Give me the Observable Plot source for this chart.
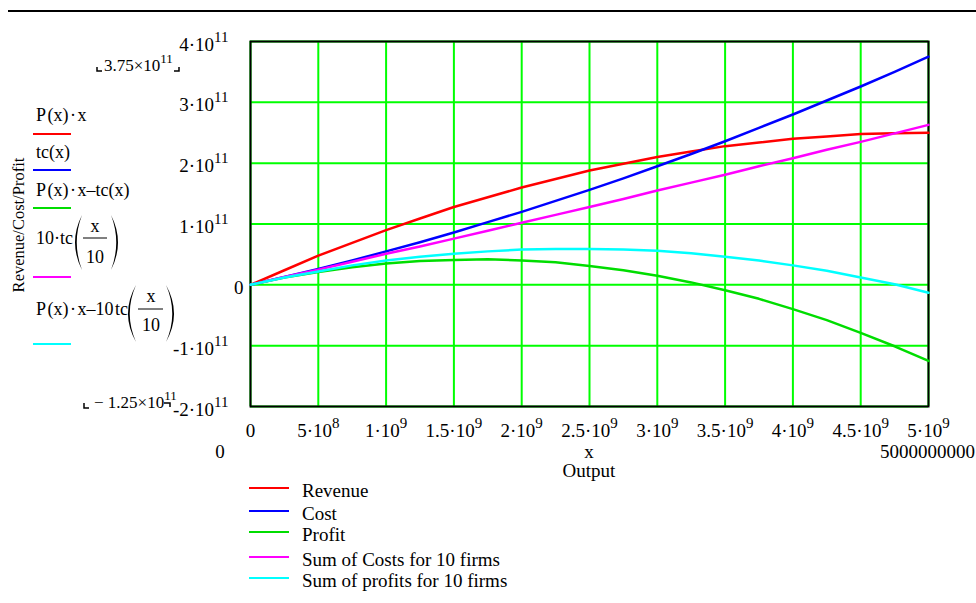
<!DOCTYPE html>
<html><head><meta charset="utf-8">
<script src="https://cdn.jsdelivr.net/npm/d3@7"></script>
<script src="https://cdn.jsdelivr.net/npm/@observablehq/plot@0.6"></script>
<style>
html,body{margin:0;padding:0;background:#fff;}
#chart{position:relative;width:976px;height:603px;overflow:hidden;}
</style></head>
<body><div id="chart"></div>
<script>
// ---- data (y values in units of 1e11) ----
const output = [0, 2.5e8, 5e8, 7.5e8, 1e9, 1.25e9, 1.5e9, 1.75e9, 2e9, 2.25e9, 2.5e9, 2.75e9, 3e9, 3.25e9, 3.5e9, 3.75e9, 4e9, 4.25e9, 4.5e9, 4.75e9, 5e9];
const revenue   = [0, 0.24, 0.48, 0.69, 0.90, 1.09, 1.28, 1.44, 1.60, 1.74, 1.88, 1.99, 2.10, 2.19, 2.28, 2.34, 2.40, 2.44, 2.48, 2.49, 2.50];
const cost      = [0, 0.13, 0.26, 0.40, 0.55, 0.70, 0.86, 1.03, 1.20, 1.38, 1.56, 1.75, 1.95, 2.15, 2.36, 2.58, 2.80, 3.03, 3.26, 3.50, 3.75];
const profit    = [0, 0.12, 0.21, 0.29, 0.35, 0.39, 0.41, 0.42, 0.40, 0.37, 0.31, 0.24, 0.15, 0.04, -0.09, -0.23, -0.40, -0.58, -0.79, -1.01, -1.25];
const costs10   = [0, 0.13, 0.25, 0.38, 0.51, 0.63, 0.76, 0.89, 1.02, 1.15, 1.28, 1.41, 1.55, 1.68, 1.81, 1.95, 2.08, 2.22, 2.35, 2.49, 2.63];
const profits10 = [0, 0.12, 0.22, 0.32, 0.40, 0.46, 0.51, 0.55, 0.58, 0.59, 0.59, 0.58, 0.56, 0.52, 0.46, 0.40, 0.32, 0.23, 0.12, 0.01, -0.13];
const UNIT = 1e11;

const seriesNames  = ["Revenue", "Cost", "Profit", "Sum of Costs for 10 firms", "Sum of profits for 10 firms"];
const seriesColors = ["#ff0000", "#0000ff", "#00dd00", "#ff00ff", "#00ffff"];

const xTicks = [0, 5e8, 1e9, 1.5e9, 2e9, 2.5e9, 3e9, 3.5e9, 4e9, 4.5e9, 5e9];
const xTickLabels = ["0", "5·10^8", "1·10^9", "1.5·10^9", "2·10^9", "2.5·10^9", "3·10^9", "3.5·10^9", "4·10^9", "4.5·10^9", "5·10^9"];
const yTicks = [-2e11, -1e11, 0, 1e11, 2e11, 3e11, 4e11];
const yTickLabels = ["-2·10^11", "-1·10^11", "0", "1·10^11", "2·10^11", "3·10^11", "4·10^11"];

const yAxisTitle = "Revenue/Cost/Profit";
const xAxisTitle = "Output";

const table = [];
[revenue, cost, profit, costs10, profits10].forEach((arr, k) =>
  arr.forEach((v, i) => table.push({x: output[i], y: v * UNIT, series: seriesNames[k]})));

const FONT = "'Liberation Serif','Times New Roman',serif";

const plot = Plot.plot({
  width: 976, height: 603,
  marginLeft: 250, marginRight: 48, marginTop: 41, marginBottom: 197,
  style: {background: "white", fontFamily: FONT, fontSize: "19px", color: "black"},
  x: {domain: [0, 5e9], axis: null},
  y: {domain: [-2e11, 4e11], axis: null},
  color: {domain: seriesNames, range: seriesColors},
  marks: [
    Plot.ruleX(xTicks, {stroke: "#00ff00", strokeWidth: 2}),
    Plot.ruleY(yTicks, {stroke: "#00ff00", strokeWidth: 2}),
    Plot.frame({stroke: "black", strokeWidth: 2}),
    Plot.line(table, {x: "x", y: "y", stroke: "series", strokeWidth: 2.5}),
    Plot.text(xTicks, {x: d => d, text: (d, i) => xTickLabels[i], frameAnchor: "bottom", lineAnchor: "top", dy: 17, fontSize: 19, fill: "black"}),
    Plot.text(yTicks, {y: d => d, text: (d, i) => yTickLabels[i], frameAnchor: "left", textAnchor: "end", dx: -22, dy: 3, fontSize: 19, fill: "black"})
  ]
});
document.getElementById("chart").appendChild(plot);

// superscripts in tick labels
const NS = "http://www.w3.org/2000/svg";
function supify(el, supSize, rise) {
  const s = el.textContent;
  const i = s.indexOf("^");
  if (i < 0) return;
  while (el.firstChild) el.removeChild(el.firstChild);
  const a = document.createElementNS(NS, "tspan"); a.textContent = s.slice(0, i);
  const b = document.createElementNS(NS, "tspan"); b.textContent = s.slice(i + 1);
  b.setAttribute("dy", -rise); b.setAttribute("font-size", supSize);
  el.appendChild(a); el.appendChild(b);
}
Array.from(plot.querySelectorAll("text")).forEach(t => {
  const isY = !!t.closest('[text-anchor="end"]');
  if (isY && t.textContent === "0") t.setAttribute("dx", 15);
  supify(t, 15, 9);
});

// ---- annotations ----
const svg = d3.select(plot);
const ann = svg.append("g").attr("font-family", FONT).attr("fill", "black");
function txt(x, y, s, o = {}) {
  const t = ann.append("text").attr("x", x).attr("y", y)
    .attr("font-size", o.size || 19).attr("text-anchor", o.anchor || "start").text(s);
  if (o.sup) t.append("tspan").attr("dy", -(o.rise || 9)).attr("font-size", o.supSize || 15).text(o.sup);
  return t;
}
function hline(x1, x2, y, color, w = 2) {
  ann.append("line").attr("x1", x1).attr("x2", x2).attr("y1", y).attr("y2", y)
    .attr("stroke", color).attr("stroke-width", w);
}
function path(d, w = 1.5) {
  ann.append("path").attr("d", d).attr("fill", "none").attr("stroke", "black").attr("stroke-width", w);
}
function paren(xa, top, bot, w, left) {
  const mid = (top + bot) / 2;
  let d;
  if (left) d = `M${xa + w},${top} Q${xa - w},${mid} ${xa + w},${bot} Q${xa - w + 3.5},${mid} ${xa + w},${top}Z`;
  else d = `M${xa},${top} Q${xa + 2 * w},${mid} ${xa},${bot} Q${xa + 2 * w - 3.5},${mid} ${xa},${top}Z`;
  ann.append("path").attr("d", d).attr("fill", "black");
}

// top rule
hline(8, 976, 11, "black", 2);

// y axis title
ann.append("text").attr("transform", "translate(24,225) rotate(-90)")
  .attr("text-anchor", "middle").attr("font-size", 16.5).text(yAxisTitle);

// left trace legend
const LS = 18;
txt(36, 121, "P\u200A(x)\u200A·\u200Ax", {size: LS});
hline(33, 71, 134, seriesColors[0]);
txt(36, 158, "tc(x)", {size: LS});
hline(33, 71, 170, seriesColors[1]);
txt(36, 196, "P\u200A(x)\u200A·\u200Ax–tc(x)", {size: LS});
hline(33, 71, 208, seriesColors[2]);
// 10·tc(x/10)
txt(36, 244, "10·tc", {size: LS});
paren(75, 215, 270, 7, true);
txt(95, 232, "x", {size: LS, anchor: "middle"});
hline(83, 107, 238, "black", 1);
txt(95, 263, "10", {size: LS, anchor: "middle"});
paren(111, 215, 270, 7, false);
hline(33, 71, 277, seriesColors[3]);
// P(x)·x−10tc(x/10)
txt(36, 315, "P\u200A(x)\u200A·\u200Ax–10\u200Atc", {size: LS});
paren(128, 285, 342, 8, true);
txt(151, 302, "x", {size: LS, anchor: "middle"});
hline(138, 163, 309, "black", 1);
txt(151, 331, "10", {size: LS, anchor: "middle"});
paren(166, 285, 342, 8, false);
hline(33, 71, 344, seriesColors[4]);

// end-value markers
txt(104, 71, "3.75×10", {size: 17, sup: "11", supSize: 13, rise: 8});
path("M97,67 V71 H102");
path("M174,71 H179 V67");
txt(94, 408, "− 1.25×10", {size: 17, sup: "11", supSize: 13, rise: 8});
path("M84,403 V408 H89");
path("M164,403 H170 V407");

// x axis extra labels
txt(220, 458, "0", {anchor: "middle"});
txt(589, 458, "x", {anchor: "middle"});
txt(975, 458, "5000000000", {anchor: "end"});
txt(589, 477, xAxisTitle, {anchor: "middle"});

// bottom legend
const legY = [488, 511, 532, 557, 578];
seriesNames.forEach((name, i) => {
  hline(249, 289, legY[i], seriesColors[i], 2);
  txt(302, legY[i] + 9, name, {size: 19});
});
</script>
</body></html>
